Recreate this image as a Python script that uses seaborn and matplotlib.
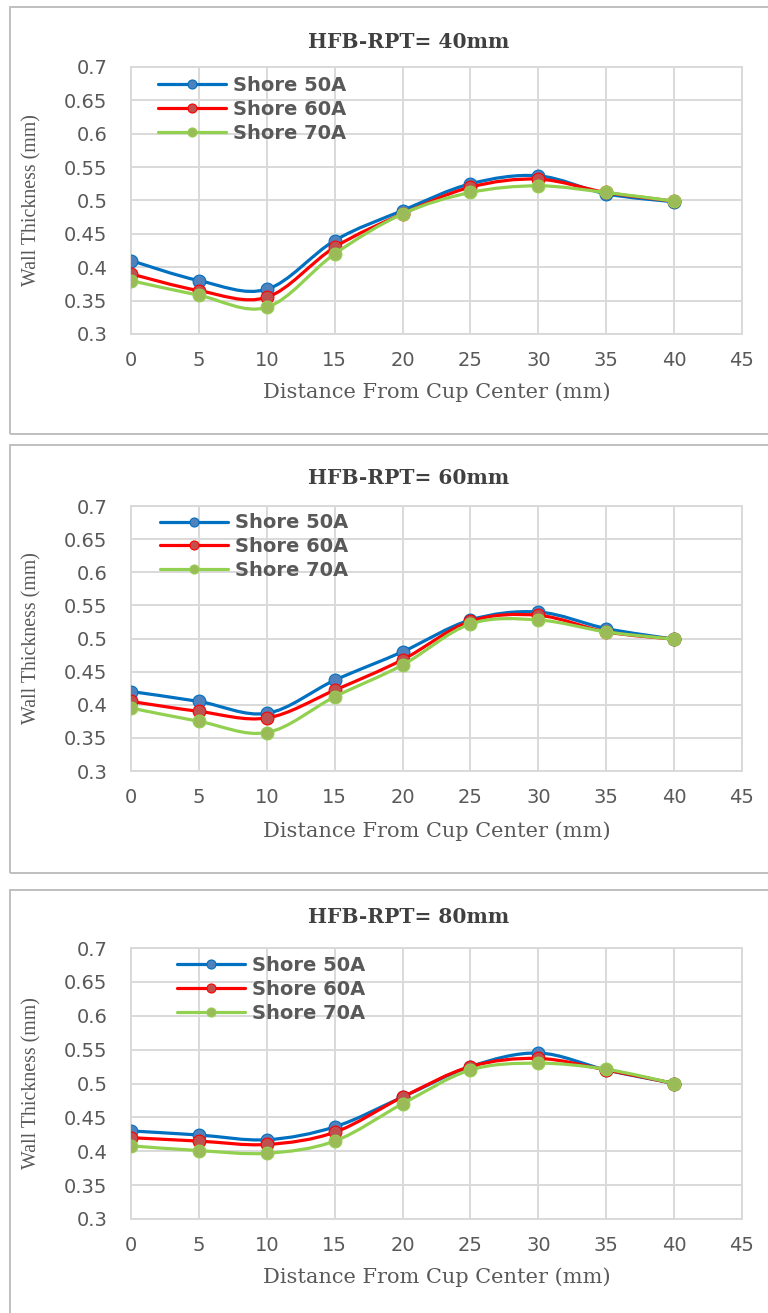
import numpy as np
import pandas as pd
import matplotlib
matplotlib.use("Agg")
import matplotlib.pyplot as plt
import seaborn as sns
from matplotlib.path import Path
from matplotlib.patches import PathPatch, Rectangle
from matplotlib.lines import Line2D

# ---------------- data ----------------
distance = [0, 5, 10, 15, 20, 25, 30, 35, 40]
series_names = ["Shore 50A", "Shore 60A", "Shore 70A"]
panel_titles = ["HFB-RPT= 40mm", "HFB-RPT= 60mm", "HFB-RPT= 80mm"]

shore50_40 = [0.410, 0.380, 0.367, 0.440, 0.485, 0.525, 0.537, 0.510, 0.498]
shore60_40 = [0.390, 0.365, 0.355, 0.430, 0.480, 0.520, 0.532, 0.512, 0.499]
shore70_40 = [0.380, 0.358, 0.340, 0.420, 0.480, 0.512, 0.522, 0.512, 0.499]

shore50_60 = [0.420, 0.405, 0.387, 0.437, 0.480, 0.528, 0.540, 0.515, 0.499]
shore60_60 = [0.405, 0.390, 0.380, 0.422, 0.468, 0.526, 0.535, 0.510, 0.499]
shore70_60 = [0.395, 0.375, 0.358, 0.412, 0.460, 0.522, 0.528, 0.510, 0.499]

shore50_80 = [0.430, 0.424, 0.417, 0.436, 0.480, 0.525, 0.545, 0.520, 0.500]
shore60_80 = [0.420, 0.415, 0.410, 0.428, 0.480, 0.525, 0.537, 0.520, 0.500]
shore70_80 = [0.408, 0.401, 0.397, 0.415, 0.470, 0.520, 0.530, 0.521, 0.500]

x_ticks = [0, 5, 10, 15, 20, 25, 30, 35, 40, 45]
y_ticks = [0.3, 0.35, 0.4, 0.45, 0.5, 0.55, 0.6, 0.65, 0.7]
y_tick_labels = ["0.3", "0.35", "0.4", "0.45", "0.5", "0.55", "0.6", "0.65", "0.7"]
x_label = "Distance From Cup Center (mm)"
y_label = "Wall Thickness (mm)"

panels = [
    [shore50_40, shore60_40, shore70_40],
    [shore50_60, shore60_60, shore70_60],
    [shore50_80, shore60_80, shore70_80],
]

# ---------------- style ----------------
line_colors = ["#0070C0", "#FF0000", "#92D050"]
marker_colors = ["#4F81BD", "#C0504D", "#9BBB59"]
text_gray = "#595959"
grid_gray = "#D9D9D9"

sns.set_theme(style="white")
plt.rcParams["font.family"] = ["DejaVu Sans"]

W, H = 768, 1313
fig = plt.figure(figsize=(W / 100, H / 100), dpi=100)

# axes rectangles in pixels: (left, top, right, bottom)
ax_px = [(131, 67, 742, 334), (131, 506, 742, 771), (131, 948, 742, 1219)]
# panel borders in pixels: (left, top, bottom)
border_px = [(10, 7, 434), (10, 445, 873), (10, 890, 1330)]
title_y = [42, 478, 917]
xlabel_y = [392, 831, 1277]
legend_anchor = [(0.044, 0.966), (0.047, 0.972), (0.075, 0.970)]


def smooth_path(xs, ys):
    pts = np.column_stack([xs, ys]).astype(float)
    n = len(pts)
    verts = [pts[0]]
    codes = [Path.MOVETO]
    for i in range(n - 1):
        p0 = pts[i - 1] if i > 0 else pts[i]
        p1 = pts[i]
        p2 = pts[i + 1]
        p3 = pts[i + 2] if i + 2 < n else pts[i + 1]
        c1 = p1 + (p2 - p0) / 6.0
        c2 = p2 - (p3 - p1) / 6.0
        verts += [c1, c2, p2]
        codes += [Path.CURVE4] * 3
    return Path(np.array(verts), codes)


for k in range(3):
    # panel border
    bl, bt, bb = border_px[k]
    fig.add_artist(Rectangle((bl / W, 1 - bb / H), 1.2, (bb - bt) / H,
                             transform=fig.transFigure, fill=False,
                             edgecolor="#BFBFBF", linewidth=1.4, zorder=0))

    l, t, r, b = ax_px[k]
    ax = fig.add_axes([l / W, 1 - b / H, (r - l) / W, (b - t) / H])
    ax.set_facecolor("none")

    rows = []
    for name, vals in zip(series_names, panels[k]):
        for d, v in zip(distance, vals):
            rows.append({"distance": d, "thickness": v, "series": name})
    df = pd.DataFrame(rows)

    for i, name in enumerate(series_names):
        sub = df[df["series"] == name]
        path = smooth_path(sub["distance"].values, sub["thickness"].values)
        ax.add_patch(PathPatch(path, fill=False, edgecolor=line_colors[i],
                               linewidth=2.3, zorder=3 + 2 * i,
                               capstyle="round", joinstyle="round"))
        sns.scatterplot(data=sub, x="distance", y="thickness", ax=ax,
                        color=marker_colors[i], edgecolor=line_colors[i],
                        linewidth=0.8, s=85, legend=False, zorder=4 + 2 * i)

    ax.set_xlim(0, 45)
    ax.set_ylim(0.3, 0.7)
    ax.set_xticks(x_ticks)
    ax.set_xticklabels([str(v) for v in x_ticks])
    ax.set_yticks(y_ticks)
    ax.set_yticklabels(y_tick_labels)
    ax.grid(True, color=grid_gray, linewidth=1.4)
    ax.set_axisbelow(True)
    for sp in ax.spines.values():
        sp.set_color(grid_gray)
        sp.set_linewidth(1.4)
    ax.tick_params(axis="both", length=0, labelsize=14, labelcolor=text_gray)
    ax.tick_params(axis="x", pad=12)
    ax.tick_params(axis="y", pad=17)
    ax.set_xlabel("")
    ax.set_ylabel("")

    handles = [Line2D([0], [0], color=line_colors[i], linewidth=2.3,
                      marker="o", markersize=6.5, markerfacecolor=marker_colors[i],
                      markeredgecolor=line_colors[i], markeredgewidth=0.8)
               for i in range(3)]
    leg = ax.legend(handles, series_names, loc="upper left",
                    bbox_to_anchor=legend_anchor[k], borderaxespad=0,
                    borderpad=0, frameon=False, handlelength=3.5,
                    handletextpad=0.35, labelspacing=0.25,
                    prop={"family": "DejaVu Sans", "weight": "bold", "size": 14})
    for txt in leg.get_texts():
        txt.set_color(text_gray)

    fig.text(409 / W, 1 - title_y[k] / H, panel_titles[k], ha="center",
             va="center", family="DejaVu Serif", weight="bold", size=14.5,
             color="#404040")
    fig.text(437 / W, 1 - xlabel_y[k] / H, x_label, ha="center", va="center",
             family="DejaVu Serif", size=15, color=text_gray)
    fig.text(32 / W, 1 - ((t + b) / 2) / H, y_label, ha="center", va="center",
             rotation=90, family="Liberation Serif", size=14.3, color=text_gray)

fig.savefig("out.png", dpi=100, facecolor="white")
